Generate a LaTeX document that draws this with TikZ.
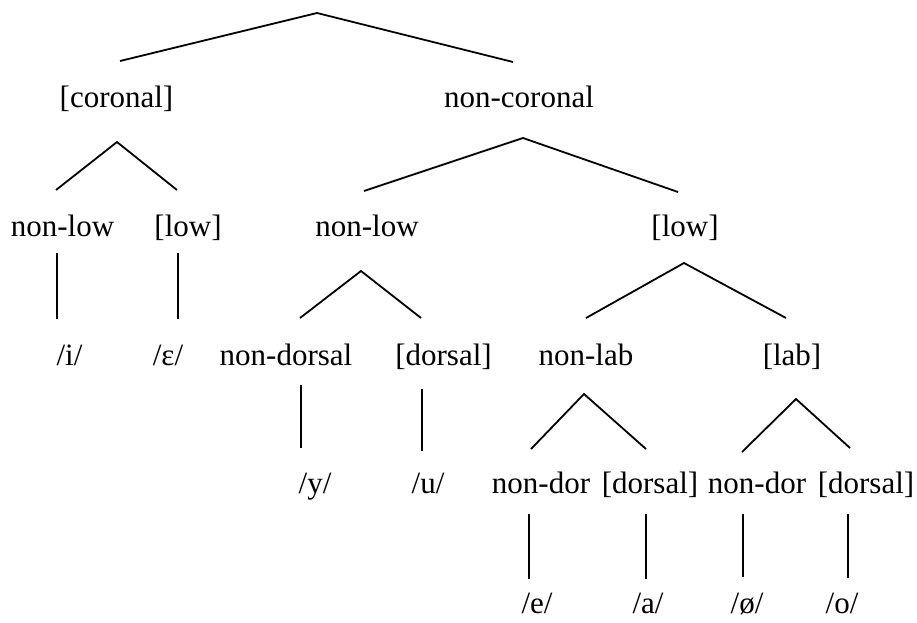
\documentclass[tikz,border=0pt]{standalone}
\usepackage{fontspec}
\setmainfont{Liberation Serif}
\begin{document}
\begin{tikzpicture}[x=1pt,y=-1pt,
  lbl/.style={anchor=base,inner sep=0pt,font=\fontsize{31}{36}\selectfont},
  edge/.style={line width=1.8pt,line cap=butt}]
\useasboundingbox (0,0) rectangle (917,622);
% labels
\node[lbl] (coronal)    at (116.5,107.5) {[coronal]};
\node[lbl] (noncoronal) at (519,107.5) {non-coronal};
\node[lbl] (nonlowA)    at (62.5,236.5) {non-low};
\node[lbl] (lowA)       at (188,236.5) {[low]};
\node[lbl] (nonlowB)    at (367,236.5) {non-low};
\node[lbl] (lowB)       at (685,236.5) {[low]};
\node[lbl] (i)          at (69.5,365) {/i/};
\node[lbl] (eps)        at (168,365) {/ε/};
\node[lbl] (nondorsal)  at (286,365) {non-dorsal};
\node[lbl] (dorsalA)    at (443.5,365) {[dorsal]};
\node[lbl] (nonlab)     at (586,365) {non-lab};
\node[lbl] (lab)        at (792,365) {[lab]};
\node[lbl] (y)          at (315,493) {/y/};
\node[lbl] (u)          at (428,493) {/u/};
\node[lbl] (nondorA)    at (541,493) {non-dor};
\node[lbl] (dorsalB)    at (650,493) {[dorsal]};
\node[lbl] (nondorB)    at (757,493) {non-dor};
\node[lbl] (dorsalC)    at (866,493) {[dorsal]};
\node[lbl] (e)          at (537,613) {/e/};
\node[lbl] (a)          at (648,613) {/a/};
\node[lbl] (oe)         at (747,613) {/ø/};
\node[lbl] (o)          at (842,613) {/o/};
% connector end points
\coordinate (root)         at (317,13);
\coordinate (coronal-t)    at (120,61);
\coordinate (noncoronal-t) at (513,62);
\coordinate (coronal-b)    at (117,142);
\coordinate (nonlowA-t)    at (56,190);
\coordinate (lowA-t)       at (177,190);
\coordinate (noncoronal-b) at (523,138);
\coordinate (nonlowB-t)    at (364,191);
\coordinate (lowB-t)       at (678,192);
\coordinate (nonlowA-b)    at (57,253);
\coordinate (i-t)          at (57,319);
\coordinate (lowA-b)       at (178,253);
\coordinate (eps-t)        at (178,319);
\coordinate (nonlowB-b)    at (361,271);
\coordinate (nondorsal-t)  at (300,318);
\coordinate (dorsalA-t)    at (421,318);
\coordinate (lowB-b)       at (684,263);
\coordinate (nonlab-t)     at (586,318);
\coordinate (lab-t)        at (786,318);
\coordinate (nondorsal-b)  at (301,385);
\coordinate (y-t)          at (301,448);
\coordinate (dorsalA-b)    at (422,389);
\coordinate (u-t)          at (422,451);
\coordinate (nonlab-b)     at (584,394);
\coordinate (nondorA-t)    at (531,449);
\coordinate (dorsalB-t)    at (646,449);
\coordinate (lab-b)        at (796,399);
\coordinate (nondorB-t)    at (742,452);
\coordinate (dorsalC-t)    at (850,448);
\coordinate (nondorA-b)    at (529,514);
\coordinate (e-t)          at (529,579);
\coordinate (dorsalB-b)    at (646,514);
\coordinate (a-t)          at (646,579);
\coordinate (nondorB-b)    at (743,514);
\coordinate (oe-t)         at (743,577);
\coordinate (dorsalC-b)    at (848,514);
\coordinate (o-t)          at (848,578);
% connectors
\draw[edge] (coronal-t) -- (root) -- (noncoronal-t);
\draw[edge] (nonlowA-t) -- (coronal-b) -- (lowA-t);
\draw[edge] (nonlowB-t) -- (noncoronal-b) -- (lowB-t);
\draw[edge] (nonlowA-b) -- (i-t);
\draw[edge] (lowA-b) -- (eps-t);
\draw[edge] (nondorsal-t) -- (nonlowB-b) -- (dorsalA-t);
\draw[edge] (nonlab-t) -- (lowB-b) -- (lab-t);
\draw[edge] (nondorsal-b) -- (y-t);
\draw[edge] (dorsalA-b) -- (u-t);
\draw[edge] (nondorA-t) -- (nonlab-b) -- (dorsalB-t);
\draw[edge] (nondorB-t) -- (lab-b) -- (dorsalC-t);
\draw[edge] (nondorA-b) -- (e-t);
\draw[edge] (dorsalB-b) -- (a-t);
\draw[edge] (nondorB-b) -- (oe-t);
\draw[edge] (dorsalC-b) -- (o-t);
\end{tikzpicture}
\end{document}
